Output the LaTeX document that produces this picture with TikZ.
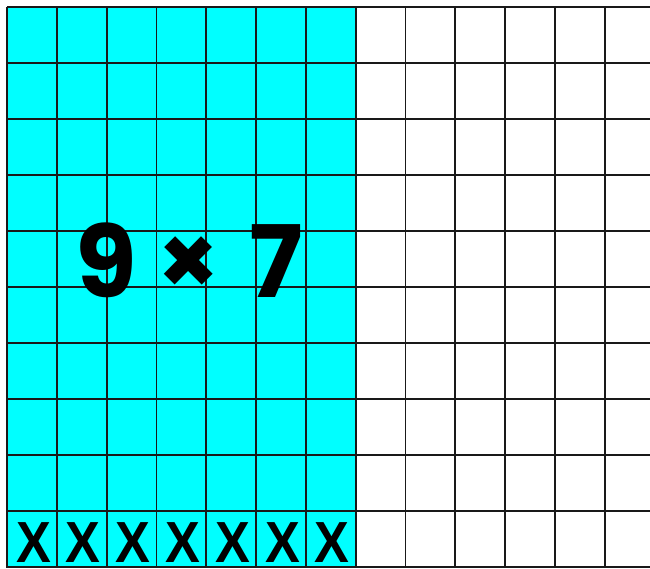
\documentclass[tikz,border=0pt]{standalone}
\usepackage{fontspec}
\newfontfamily\popb{Poppins}[UprightFont={* Bold}]
\newfontfamily\xfont{Liberation Sans}[UprightFont={* Bold}]
\definecolor{aqua}{RGB}{0,255,255}
\begin{document}
\begin{tikzpicture}[x=1pt,y=-1pt,
  gridline/.style={line width=1.8pt,draw=black!90},
  bigtext/.style={font=\popb\fontsize{100}{100}\selectfont,anchor=base,inner sep=0pt},
  timestext/.style={font=\popb\fontsize{98}{98}\selectfont,anchor=base,inner sep=0pt},
  xmark/.style={font=\xfont\fontsize{58}{58}\selectfont,anchor=base,inner sep=0pt,xscale=0.9}]
\useasboundingbox (0,0) rectangle (650,568);
\fill[white] (0,0) rectangle (650,568);
\fill[aqua] (7,7) rectangle (356,567);
\foreach \i in {0,...,12} \draw[gridline] ({7+\i*49.8},7) -- ({7+\i*49.8},568);
\foreach \j in {0,...,10} \draw[gridline] (7,{7+\j*56}) -- (650,{7+\j*56});
\node[bigtext] (nine) at (106,297) {9};
\node[timestext] (times) at (189,295) {×};
\node[bigtext] (seven) at (276,297) {7};
\foreach \i in {0,...,6} \node[xmark] (x\i) at ({33.5+\i*49.8},562) {X};
\end{tikzpicture}
\end{document}
